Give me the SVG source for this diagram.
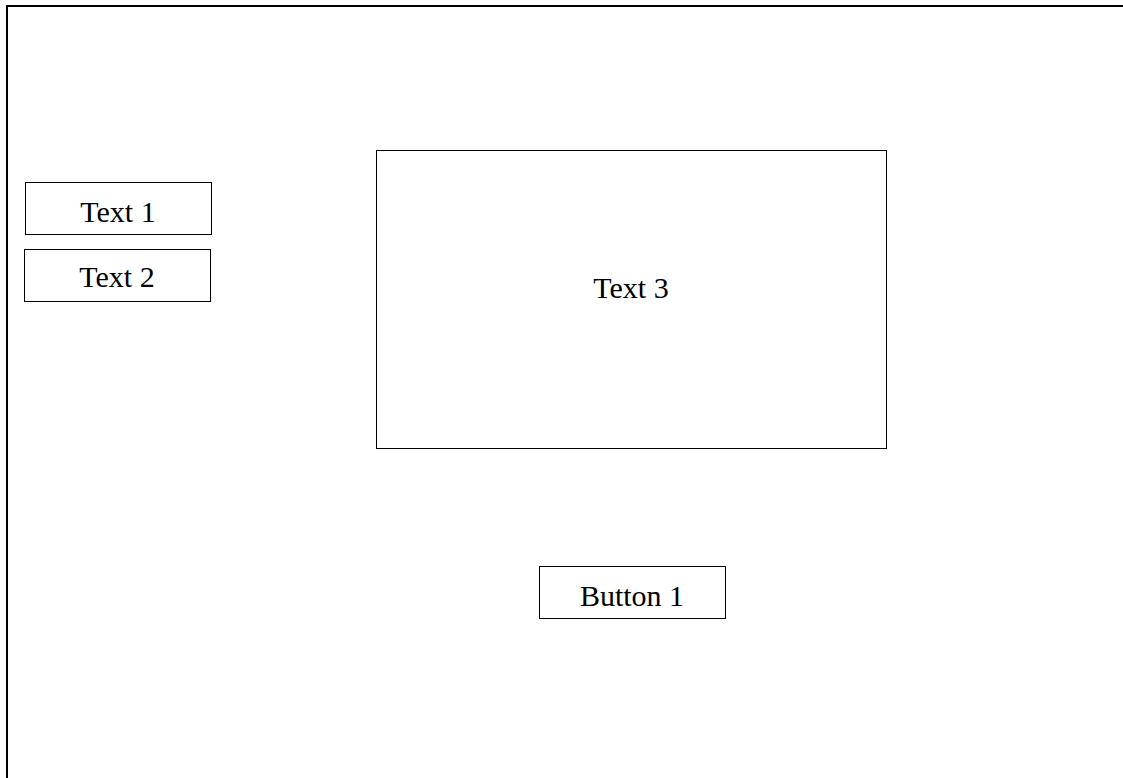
<svg xmlns="http://www.w3.org/2000/svg" width="1123" height="778" viewBox="0 0 1123 778">
<style>
.box{fill:#fff;stroke:#000;stroke-width:1}
.lbl{font-family:"Liberation Serif","Times New Roman",serif;font-size:30px;fill:#000;text-anchor:middle}
</style>
<rect x="0" y="0" width="1123" height="778" fill="#fff"/>
<g id="frame"><path d="M7,790 V6 H1130" fill="none" stroke="#000" stroke-width="2"/></g>
<g id="text1"><rect class="box" x="25.5" y="182.5" width="186" height="52"/><text class="lbl" x="118" y="222">Text 1</text></g>
<g id="text2"><rect class="box" x="24.5" y="249.5" width="186" height="52"/><text class="lbl" x="117" y="287">Text 2</text></g>
<g id="text3"><rect class="box" x="376.5" y="150.5" width="510" height="298"/><text class="lbl" x="631" y="298">Text 3</text></g>
<g id="button1"><rect class="box" x="539.5" y="566.5" width="186" height="52"/><text class="lbl" x="632" y="606">Button 1</text></g>
<g id="connectors"></g>
</svg>
